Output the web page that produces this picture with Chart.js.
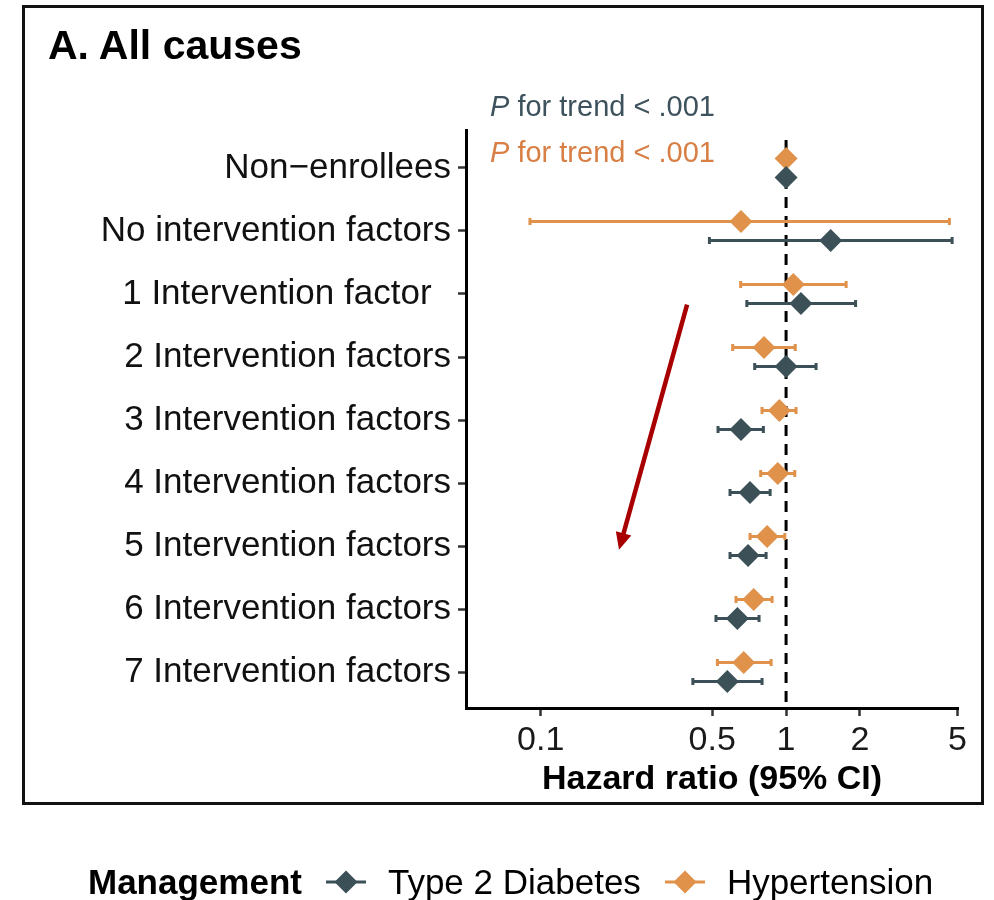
<!DOCTYPE html>
<html>
<head>
<meta charset="utf-8">
<script src="https://cdn.jsdelivr.net/npm/chart.js@4.4.1/dist/chart.umd.min.js"></script>
<style>
  body { margin: 0; background: #fff; font-family: "Liberation Sans", Arial, sans-serif; }
  #wrap { position: relative; width: 994px; height: 900px; }
  #myChart { position: absolute; left: 0; top: 0; }
  #frame { position: absolute; left: 22px; top: 5px; width: 962px; height: 800px; box-sizing: border-box; border: 3px solid #111; pointer-events: none; }
  #titulo { position: absolute; left: 48px; top: 25px; font-size: 41px; line-height: 41px; font-weight: bold; color: #000; }
  .ptrend { position: absolute; left: 490px; font-size: 29px; line-height: 29px; white-space: nowrap; }
  #leyenda { position: absolute; left: 88px; top: 864px; height: 36px; display: flex; align-items: center; font-size: 35px; line-height: 36px; color: #000; white-space: nowrap; }
  #leyenda b { margin-right: 24px; }
  #leyenda svg { margin-right: 22px; }
  #leyenda span { margin-right: 24px; }
</style>
</head>
<body>
<div id="wrap">
  <canvas id="myChart" width="994" height="900"></canvas>
  <div id="frame"></div>
  <div id="titulo">A. All causes</div>
  <div class="ptrend" style="top:92px;color:#3d525c"><i>P</i> for trend &lt; .001</div>
  <div class="ptrend" style="top:138px;color:#d77f44"><i>P</i> for trend &lt; .001</div>
  <div id="leyenda">
    <b>Management</b>
    <svg width="40" height="26"><line x1="0" y1="13" x2="40" y2="13" stroke="#3b5057" stroke-width="3"/><polygon points="20,1.5 31.5,13 20,24.5 8.5,13" fill="#3b5057"/></svg>
    <span>Type 2 Diabetes</span>
    <svg width="40" height="26"><line x1="0" y1="13" x2="40" y2="13" stroke="#e0914a" stroke-width="3"/><polygon points="20,1.5 31.5,13 20,24.5 8.5,13" fill="#e0914a"/></svg>
    <span>Hypertension</span>
  </div>
</div>
<script>
// categorias del eje Y
const categorias = [
  'Non\u2212enrollees',
  'No intervention factors',
  '1 Intervention factor  ',
  '2 Intervention factors',
  '3 Intervention factors',
  '4 Intervention factors',
  '5 Intervention factors',
  '6 Intervention factors',
  '7 Intervention factors'
];

// Type 2 Diabetes: HR y limites del IC 95%
const diabetesHR   = [1.00, 1.52, 1.15, 1.00, 0.655, 0.713, 0.700, 0.633, 0.576];
const diabetesBajo = [null, 0.487, 0.692, 0.745, 0.528, 0.591, 0.591, 0.518, 0.417];
const diabetesAlto = [null, 4.75, 1.92, 1.325, 0.808, 0.861, 0.829, 0.776, 0.798];

// Hypertension: HR y limites del IC 95%
const hipertHR   = [1.00, 0.655, 1.07, 0.813, 0.939, 0.925, 0.837, 0.738, 0.672];
const hipertBajo = [null, 0.0904, 0.653, 0.606, 0.798, 0.788, 0.713, 0.625, 0.525];
const hipertAlto = [null, 4.63, 1.757, 1.09, 1.098, 1.085, 0.988, 0.877, 0.869];

const ticksX = [0.1, 0.5, 1, 2, 5];

// flecha roja (en unidades de datos: HR, posicion de categoria)
const flechaDesde = [0.395, 2.17];
const flechaHasta = [0.2085, 6.06];

const COLOR_DM = '#3b5057';
const COLOR_HTA = '#e0914a';
const DESPLAZA = 0.15; // separacion vertical entre las dos series

function puntos(hr, signo) {
  return hr.map((v, i) => ({ x: v, y: i + signo * DESPLAZA }));
}

// barras de error + linea discontinua en HR = 1
const barrasError = {
  id: 'barrasError',
  beforeDatasetsDraw(chart) {
    var ctx = chart.ctx;
    var sx = chart.scales.x, sy = chart.scales.y;
    var area = chart.chartArea;
    ctx.save();
    // linea de referencia
    ctx.strokeStyle = '#000';
    ctx.lineWidth = 3;
    ctx.setLineDash([11, 8]);
    ctx.beginPath();
    ctx.moveTo(sx.getPixelForValue(1), area.top + 10);
    ctx.lineTo(sx.getPixelForValue(1), area.bottom);
    ctx.stroke();
    ctx.setLineDash([]);
    chart.data.datasets.forEach((ds) => {
      ctx.strokeStyle = ds.borderColor;
      ctx.lineWidth = 3;
      ds.data.forEach((p, i) => {
        if (ds.bajo[i] == null) return;
        var y = sy.getPixelForValue(p.y);
        var x1 = sx.getPixelForValue(ds.bajo[i]);
        var x2 = sx.getPixelForValue(ds.alto[i]);
        ctx.beginPath();
        ctx.moveTo(x1, y); ctx.lineTo(x2, y);
        ctx.moveTo(x1, y - 3.5); ctx.lineTo(x1, y + 3.5);
        ctx.moveTo(x2, y - 3.5); ctx.lineTo(x2, y + 3.5);
        ctx.stroke();
      });
    });
    ctx.restore();
  },
  afterDatasetsDraw(chart) {
    var ctx = chart.ctx;
    var sx = chart.scales.x, sy = chart.scales.y;
    var x1 = sx.getPixelForValue(flechaDesde[0]), y1 = sy.getPixelForValue(flechaDesde[1]);
    var x2 = sx.getPixelForValue(flechaHasta[0]), y2 = sy.getPixelForValue(flechaHasta[1]);
    var ang = Math.atan2(y2 - y1, x2 - x1);
    var largo = 17, ancho = 8;
    ctx.save();
    ctx.strokeStyle = '#a80000';
    ctx.fillStyle = '#a80000';
    ctx.lineWidth = 4.5;
    ctx.beginPath();
    ctx.moveTo(x1, y1);
    ctx.lineTo(x2 - Math.cos(ang) * largo * 0.8, y2 - Math.sin(ang) * largo * 0.8);
    ctx.stroke();
    ctx.beginPath();
    ctx.moveTo(x2, y2);
    ctx.lineTo(x2 - Math.cos(ang) * largo + Math.sin(ang) * ancho, y2 - Math.sin(ang) * largo - Math.cos(ang) * ancho);
    ctx.lineTo(x2 - Math.cos(ang) * largo - Math.sin(ang) * ancho, y2 - Math.sin(ang) * largo + Math.cos(ang) * ancho);
    ctx.closePath();
    ctx.fill();
    ctx.restore();
  }
};

var ctx = document.getElementById('myChart').getContext('2d');
var myChart = new Chart(ctx, {
  type: 'scatter',
  data: {
    datasets: [
      {
        label: 'Type 2 Diabetes',
        data: puntos(diabetesHR, 1),
        bajo: diabetesBajo,
        alto: diabetesAlto,
        backgroundColor: COLOR_DM,
        borderColor: COLOR_DM,
        pointStyle: 'rectRot',
        pointRadius: 11.5,
        pointBorderWidth: 0
      },
      {
        label: 'Hypertension',
        data: puntos(hipertHR, -1),
        bajo: hipertBajo,
        alto: hipertAlto,
        backgroundColor: COLOR_HTA,
        borderColor: COLOR_HTA,
        pointStyle: 'rectRot',
        pointRadius: 11.5,
        pointBorderWidth: 0
      }
    ]
  },
  options: {
    responsive: false,
    animation: false,
    layout: { padding: { left: 0, top: 130, right: 36, bottom: 0 } },
    plugins: {
      legend: { display: false },
      tooltip: { enabled: false }
    },
    scales: {
      x: {
        type: 'logarithmic',
        min: 0.0496,
        max: 5.02,
        afterBuildTicks: (s) => { s.ticks = ticksX.map((v) => ({ value: v })); },
        afterFit: (s) => { s.height = 900 - 708; },
        ticks: {
          callback: (v) => String(v),
          font: { family: 'Liberation Sans', size: 34 },
          color: '#1a1a1a',
          padding: 4,
          maxRotation: 0,
          autoSkip: false
        },
        grid: { drawOnChartArea: false, drawTicks: true, tickLength: 8, tickColor: '#333', tickWidth: 2.5 },
        border: { display: true, color: '#000', width: 3 },
        title: {
          display: true,
          text: 'Hazard ratio (95% CI)',
          font: { family: 'Liberation Sans', size: 34, weight: 'bold' },
          color: '#000',
          padding: { top: 0, bottom: 100 }
        }
      },
      y: {
        type: 'linear',
        reverse: true,
        min: -0.603,
        max: 8.571,
        afterBuildTicks: (s) => { s.ticks = categorias.map((c, i) => ({ value: i })); },
        afterFit: (s) => { s.width = 466; },
        ticks: {
          callback: (v) => categorias[v],
          font: { family: 'Liberation Sans', size: 35 },
          color: '#111',
          padding: 7,
          autoSkip: false
        },
        grid: { drawOnChartArea: false, drawTicks: true, tickLength: 8, tickColor: '#333', tickWidth: 2.5 },
        border: { display: true, color: '#000', width: 3 }
      }
    }
  },
  plugins: [barrasError]
});
</script>
</body>
</html>
